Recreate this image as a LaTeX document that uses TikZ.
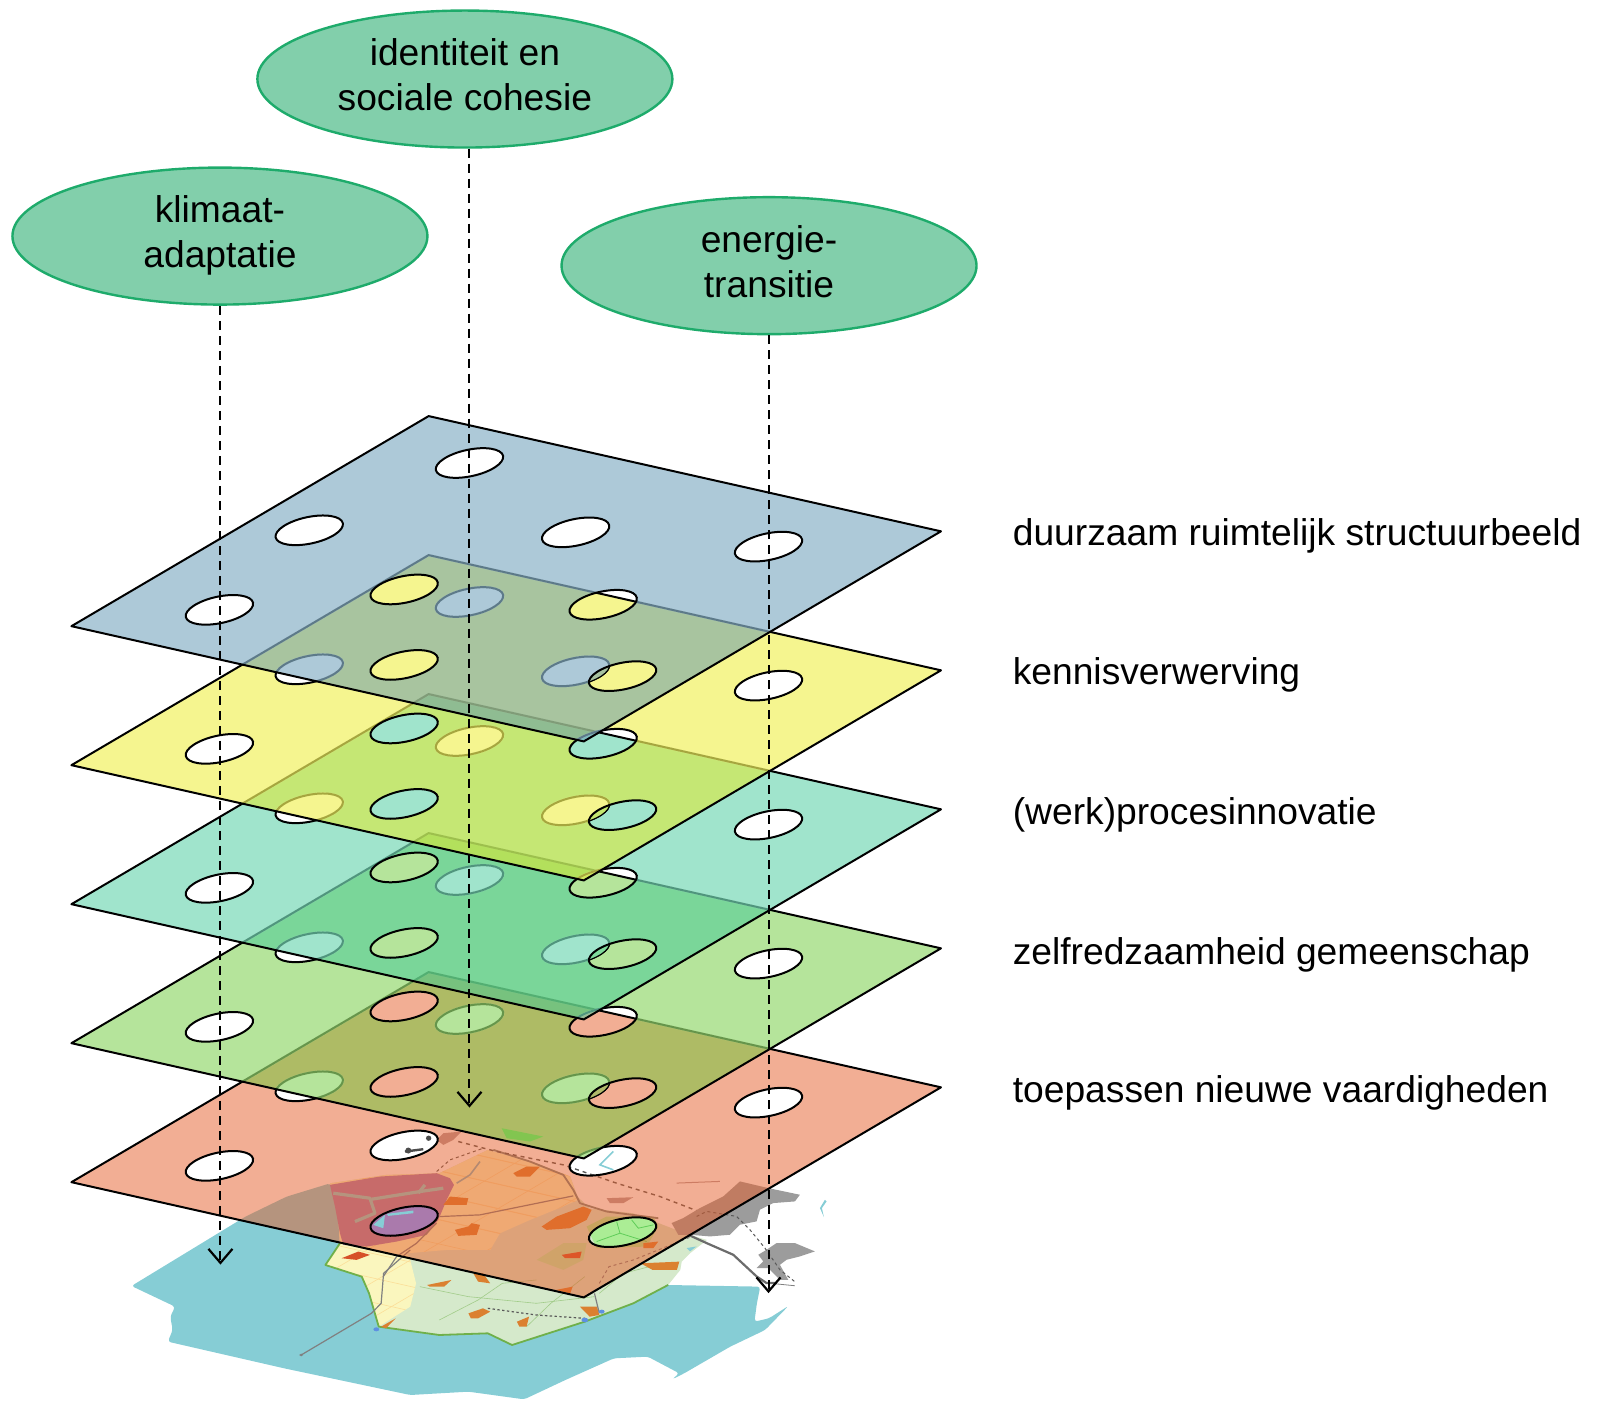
\documentclass[tikz,border=0pt]{standalone}
\usepackage{fontspec}
\setmainfont{Liberation Sans}
\usetikzlibrary{shapes.geometric,arrows.meta}
\definecolor{pblue}{RGB}{91,147,177}
\definecolor{pyellow}{RGB}{235,235,31}
\definecolor{pteal}{RGB}{65,201,153}
\definecolor{pgreen}{RGB}{107,201,55}
\definecolor{psalmon}{RGB}{229,93,41}
\definecolor{lblue}{RGB}{166,193,160}
\definecolor{lyellow}{RGB}{196,232,111}
\definecolor{lteal}{RGB}{127,217,155}
\definecolor{lgreen}{RGB}{176,185,106}
\definecolor{ovalfill}{RGB}{130,207,171}
\definecolor{ovalline}{RGB}{30,171,107}
\definecolor{sea}{RGB}{134,205,213}
\definecolor{landg}{RGB}{213,233,203}
\definecolor{landy}{RGB}{250,246,190}
\definecolor{coast}{RGB}{111,176,74}
\definecolor{redz}{RGB}{170,122,172}
\definecolor{town}{RGB}{219,128,48}
\definecolor{townr}{RGB}{214,80,40}
\definecolor{mute}{RGB}{181,157,159}
\definecolor{greyz}{RGB}{156,156,156}
\definecolor{greenz}{RGB}{171,237,149}
\definecolor{edgez}{RGB}{125,135,125}
\definecolor{patchz}{RGB}{155,194,107}
\tikzset{
  hs/.style={x radius=17.17pt,y radius=6.64pt,rotate=12},
  oval/.style={ellipse,draw=ovalline,fill=ovalfill,line width=1.2pt,minimum width=207.5pt,minimum height=68.5pt,inner sep=0pt,align=center,font=\fontsize{18.6}{22.4}\selectfont},
  lab/.style={anchor=west,inner sep=0pt,font=\fontsize{18.6}{22.4}\selectfont},
  conn/.style={line width=1pt,dash pattern=on 4.5pt off 3pt,-{Straight Barb[length=7pt,width=12pt,line width=1.1pt]}},
  zoomA/.style={shift={(97.95,1000.1)},x=.2424pt,y=-.1667pt},
  zoomB/.style={shift={(323.3,1088.3)},x=.16667pt,y=-.16667pt},
  zoomC/.style={shift={(627,1117.6)},x=.16667pt,y=-.16667pt},
}
\newcommand\planepath{(70,613)--(420,407)--(922,520)--(572,726)--cycle}
\newcommand\holepath{(460,453) ellipse[hs] (303,519) ellipse[hs] (564,521) ellipse[hs] (753,535) ellipse[hs] (215,597) ellipse[hs] (396,577) ellipse[hs] (591,592) ellipse[hs] (396,651) ellipse[hs] (610,662) ellipse[hs]}
\newcommand\ovtext[3]{\raisebox{#1}{\begin{tabular}{@{}c@{}}#2\\#3\end{tabular}}}
% #1 colour, #2 offset, #3 colour of the lens where the next plane's hole meets this one's
\newcommand\layerplane[3]{%
  \begin{scope}[shift={(0,#2)}]
    \ifx#3\relax\else
    \begin{scope}[even odd rule]
      \clip \planepath \holepath;
      \begin{scope}[shift={(0,136.3)}]
        \draw[white,opacity=.38,line width=1.3pt] \planepath \holepath;
      \end{scope}
    \end{scope}
    \fi
    \fill[even odd rule,fill=#1,fill opacity=.5] \planepath \holepath;
    \ifx#3\relax\else
    \begin{scope}
      \clip (610,662) ellipse[hs];
      \fill[#3] (564,658) ellipse[hs];
      \draw[line width=.6pt] (564,658) ellipse[hs];
    \end{scope}
    \fi
    \draw[line width=1pt,line join=round] \planepath;
    \draw[line width=1pt] \holepath;
  \end{scope}}
\begin{document}
\begin{tikzpicture}[x=.5103pt,y=-.5099pt]
\useasboundingbox (0,0) rectangle (1567.7,1377.7);

% --- the map underneath ---
\begin{scope}[zoomA]
  \fill[sea,rounded corners=1.5pt] (65,798)--(300,590)--(385,530)--(475,490)--(490,560)--(495,670)--(1170,795)--(1362,800)--(1355,850)--(1350,905)--(1380,895)--(1420,858)--(1372,930)--(1300,980)--(1205,1060)--(1180,1078)--(1195,1060)--(1130,1010)--(1060,1015)--(960,1080)--(875,1138)--(760,1115)--(640,1125)--(380,1045)--(140,965)--(150,930)--(145,890)--(155,860)--cycle;
  \fill[landg] (495,670)--(465,735)--(540,770)--(555,820)--(575,920)--(700,945)--(800,940)--(850,975)--(1000,905)--(1100,850)--(1172,795)--(1197,750)--(1200,725)--(1217,700)--(1252,660)--(1217,645)--(1180,625)--(1100,580)--(1010,565)--(985,530)--(970,470)--(900,430)--(800,390)--(700,460)--(590,465)--(475,490)--(490,560)--cycle;
  \begin{scope}
    \clip (495,670)--(465,735)--(540,770)--(555,820)--(575,920)--(640,860)--(652,790)--(640,720)--(633,700)--(715,690)--(805,690)--(825,640)--(887,600)--(955,560)--(986,540)--(970,470)--(900,430)--(800,390)--(700,460)--(590,465)--(475,490)--(490,560)--cycle;
    \fill[landy] (400,350) rectangle (1050,960);
    \foreach \i in {0,...,14} {
      \draw[line width=.3pt,color=landy!80!orange] (400+90*\i,500+29.5*\i) ++(-370,316) -- ++(740,-632);
      \draw[line width=.3pt,color=landy!80!orange] (700+62*\i,600-53*\i) ++(-530,-174) -- ++(1060,348);
      \draw[line width=.3pt,color=landy!80!orange] (500+62*\i,900-53*\i) ++(-530,-174) -- ++(1060,348);
    }
  \end{scope}
  \draw[line width=.3pt,color=coast!50!landg] (660,800)--(760,830)--(900,850)--(1020,830);
  \draw[line width=.3pt,color=coast!50!landg] (700,900)--(780,840)--(830,790)--(900,780);
  \draw[line width=.3pt,color=coast!50!landg] (880,920)--(930,850)--(1000,770);
  \draw[line width=.3pt,color=coast!50!landg] (1030,820)--(1080,760)--(1160,730);
  \draw[coast,line width=.9pt,line join=round] (495,670)--(465,735)--(540,770)--(555,820)--(575,920)--(700,945)--(800,940)--(850,975)--(1000,905)--(1100,850)--(1172,795);
  % towns on the pale land
  \fill[town] (675,795)--(725,780)--(710,800)--(680,800)--cycle;
  \fill[town] (770,760)--(790,760)--(805,790)--(780,785)--cycle;
  \fill[town] (760,880)--(790,865)--(805,875)--(780,895)--(765,895)--cycle;
  \fill[town] (860,905)--(885,890)--(880,920)--(865,920)--cycle;
  \fill[town] (580,920)--(610,895)--(590,925)--cycle;
  \fill[town] (990,860)--(1025,860)--(1030,885)--(1010,890)--cycle;
  \fill[town] (1115,730)--(1195,725)--(1190,750)--(1140,750)--cycle;
  \fill[town] (940,810)--(975,800)--(970,820)--cycle;
  % roads and routes
  \draw[gray,line width=.6pt] (415,1005)--(560,880)--(580,850)--(585,760)--(640,690);
  \fill[gray] (415,1005) circle[radius=4];
  \draw[gray,line width=.6pt] (1020,820)--(1030,880);
  \draw[gray!70!black,line width=.6pt,dash pattern=on 1.2pt off 1.2pt] (800,865)--(900,885)--(1000,895);
  \draw[gray,line width=.5pt,dash pattern=on 1.5pt off 1.5pt] (1030,790)--(1050,740)--(1100,720)--(1220,650);
  \fill[blue!30!sea] (570,928) circle[radius=6] (1000,900) circle[radius=7] (1035,875) circle[radius=6];
\end{scope}
\begin{scope}[zoomB]
  % red zone and channels
  \fill[redz] (0,225)--(150,200)--(320,190)--(360,205)--(372,225)--(350,270)--(325,330)--(290,375)--(200,395)--(110,410)--(40,405)--(30,370)--(15,290)--cycle;
  \draw[sea,line width=1.6pt,line join=round] (75,335)--(135,310)--(120,265)--(10,250);
  \draw[sea,line width=1.6pt,line join=round] (125,268)--(270,245)--(340,235);
  \draw[sea,line width=1.6pt] (265,250)--(285,225);
  \fill[sea] (130,345)--(165,315)--(160,355)--cycle (170,312)--(250,302)--(250,310)--(175,318)--cycle;
  % green area, towns
  \fill[greenz!60!landg] (620,450)--(700,400)--(770,400)--(760,450)--(700,480)--cycle;
  \fill[greenz] (770,350)--(830,320)--(970,320)--(985,350)--(950,410)--(800,415)--cycle;
  \draw[green!50!gray!70!greenz,line width=.4pt] (800,395)--(870,370)--(950,395) (870,370)--(860,335) (905,330)--(925,355)--(970,345);
  \fill[town] (550,190)--(590,170)--(630,170)--(600,200)--(560,200)--cycle;
  \fill[town] (340,285)--(360,260)--(415,265)--(410,285)--(375,285)--cycle;
  \fill[town] (375,360)--(415,350)--(425,340)--(450,345)--(440,375)--(385,378)--cycle;
  \fill[town] (635,350)--(680,320)--(720,305)--(760,290)--(785,300)--(770,330)--(720,355)--(650,360)--cycle;
  \fill[townr] (695,435)--(755,425)--(750,445)--(705,445)--cycle;
  \fill[town] (940,400)--(985,395)--(970,415)--(940,415)--cycle;
  \fill[townr] (35,445)--(85,425)--(120,435)--(80,450)--cycle;
  \fill[mute] (830,265)--(910,262)--(880,280)--(840,280)--cycle;
  \fill[mute] (320,90)--(340,70)--(395,65)--(370,90)--(340,105)--cycle;
  % lines
  \draw[gray,line width=.6pt] (330,320)--(450,315)--(730,258);
  \draw[gray,line width=.6pt] (320,340)--(260,400)--(200,440)--(160,500);
  \draw[sea!70!gray,line width=.8pt] (380,220)--(420,195)--(450,155);
  \draw[edgez,line width=.9pt,line join=round] (490,120)--(600,155)--(700,195)--(730,240)--(750,280)--(830,305)--(985,325);
  \draw[gray!70!black,line width=.7pt,dash pattern=on 2pt off 2pt] (385,95)--(500,125)--(700,165)--(860,220)--(990,260)--(1120,310);
  \draw[gray!70!black,line width=.5pt,dash pattern=on 1.5pt off 1.5pt] (320,185)--(360,150)--(460,115);
  % marks seen through the white holes
  \draw[gray!60!black,line width=1.2pt] (225,125)--(280,118);
  \fill[gray!60!black] (235,122) circle[radius=9] (296,85) circle[radius=8];
  \draw[sea,line width=.8pt] (850,125)--(810,165)--(850,180);
\end{scope}
\begin{scope}[zoomC]
  \fill[greyz] (95,250)--(130,235)--(180,205)--(250,170)--(300,125)--(385,145)--(480,165)--(465,185)--(400,190)--(360,210)--(350,245)--(300,255)--(270,285)--(210,290)--(150,285)--(115,285)--cycle;
  \fill[greyz] (355,345)--(380,330)--(410,310)--(465,310)--(525,335)--(480,350)--(440,360)--(420,375)--(445,420)--(420,420)--(385,385)--(350,385)--(370,365)--cycle;
  \draw[gray!85!black,line width=1.1pt,line join=round] (145,285)--(200,310)--(280,345)--(350,410)--(380,430)--(410,430);
  \draw[gray!70!black,line width=.5pt,dash pattern=on 1.5pt off 1.5pt] (170,230)--(200,215)--(290,230)--(330,270)--(375,325)--(420,390)--(470,430);
  \draw[gray,line width=.4pt] (405,432)--(465,438);
  \fill[sea] (555,180)--(540,205)--(552,232)--(546,205)--(560,185)--cycle;
  \fill[sea] (140,325)--(170,320)--(150,335)--cycle;
  \draw[mute,line width=.5pt] (110,130)--(240,125);
\end{scope}

% --- the five planes, lowest first ---
\layerplane{psalmon}{546.2}{\relax}
\begin{scope}[zoomB]
  \fill[patchz] (515,55)--(640,80)--(600,95)--(530,85)--cycle;
\end{scope}
\layerplane{pgreen}{409.9}{lgreen}
\layerplane{pteal}{273.6}{lteal}
\layerplane{pyellow}{137.3}{lyellow}
\layerplane{pblue}{1}{lblue}

% --- ovals, connectors and labels ---
\node[oval] (adapt) at (215.5,231.5) {\ovtext{2.2pt}{klimaat-}{adaptatie}};
\node[oval] (ident) at (455.5,77.5) {\ovtext{1.9pt}{identiteit en}{sociale cohesie}};
\node[oval] (energ) at (753.5,260.5) {\ovtext{-1.7pt}{energie-}{transitie}};
\coordinate (adaptend) at (216,1240);
\coordinate (identend) at (460,1086);
\coordinate (energend) at (753,1268);
\draw[conn] (adapt.south -| adaptend) -- (adaptend);
\draw[conn] (ident.south -| identend) -- (identend);
\draw[conn] (energ.south -| energend) -- (energend);
\node[lab] (l1) at (992,525.5) {duurzaam ruimtelijk structuurbeeld};
\node[lab] (l2) at (992,661.5) {kennisverwerving};
\node[lab] (l3) at (992,799) {(werk)procesinnovatie};
\node[lab] (l4) at (992,936) {zelfredzaamheid gemeenschap};
\node[lab] (l5) at (992,1072) {toepassen nieuwe vaardigheden};
\end{tikzpicture}
\end{document}
